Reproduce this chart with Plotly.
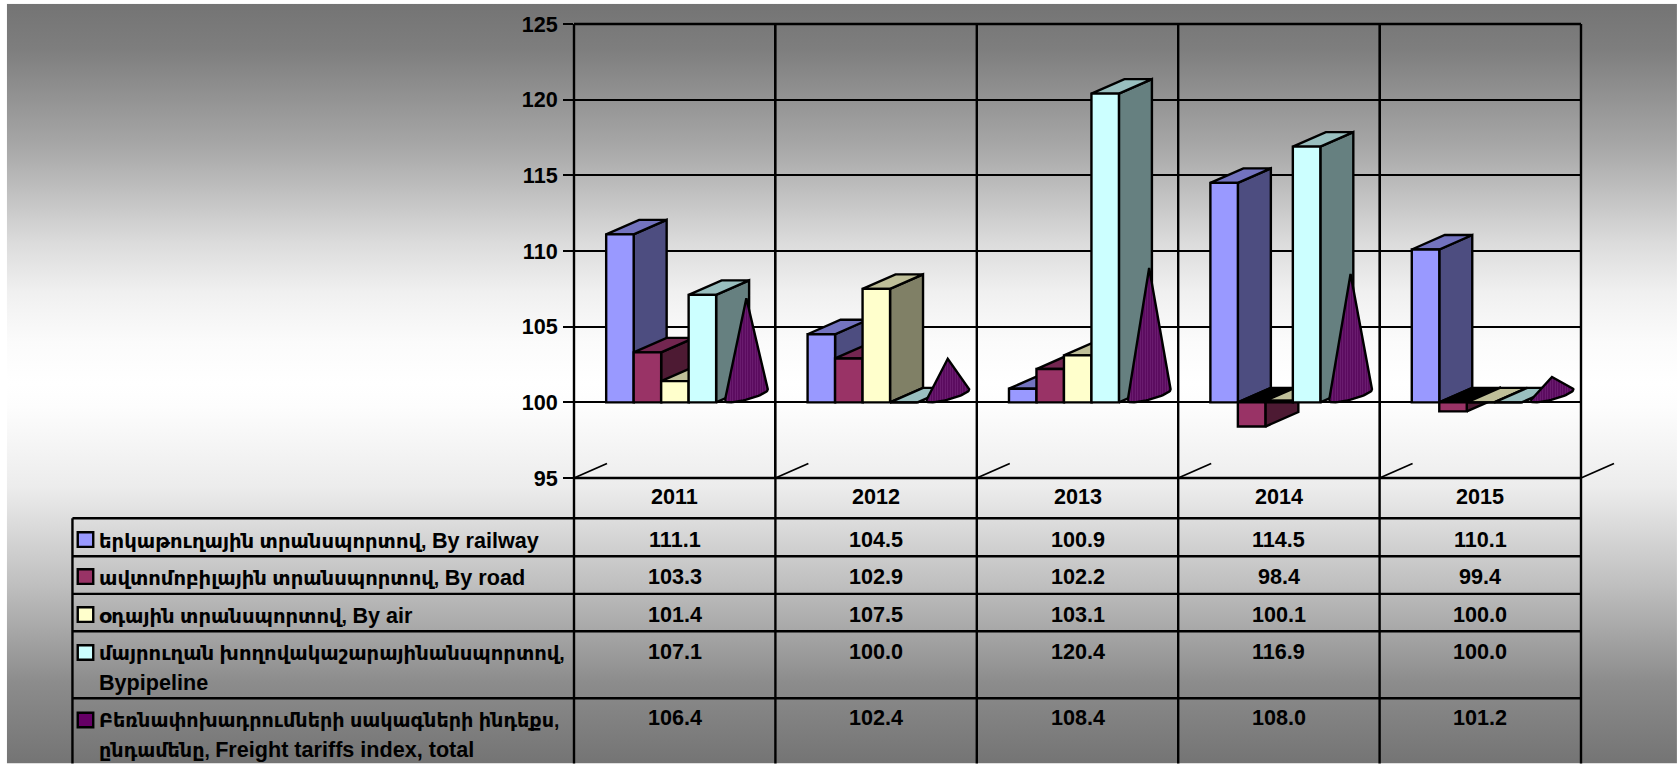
import base64
import math
import re
import plotly.graph_objects as go

# ---- data -------------------------------------------------------------
years = ["2011", "2012", "2013", "2014", "2015"]
railway = [111.1, 104.5, 100.9, 114.5, 110.1]
road = [103.3, 102.9, 102.2, 98.4, 99.4]
air = [101.4, 107.5, 103.1, 100.1, 100.0]
pipeline = [107.1, 100.0, 120.4, 116.9, 100.0]
tariffs = [106.4, 102.4, 108.4, 108.0, 101.2]

label_railway = ["երկաթուղային տրանսպորտով, By railway"]
label_road = ["ավտոմոբիլային տրանսպորտով, By road"]
label_air = ["օդային տրանսպորտով, By air"]
label_pipeline = ["մայրուղան խողովակաշարայինանսպորտով,", "Bypipeline"]
label_tariffs = ["Բեռնափոխադրումների սակագների ինդեքս,", "ընդամենը, Freight tariffs index, total"]

y_ticks = [95, 100, 105, 110, 115, 120, 125]

# ---- styling ----------------------------------------------------------
W, H = 1677, 764
L, R, T, B = 573.5, 1581.0, 24.2, 478.4
FONT = "Liberation Sans, DejaVu Sans, Arial, sans-serif"
FS = 21.6
FS_ARM = 19.6
LW = 2.4
BLACK = "#000000"


def xp(px):
    return (px - L) / (R - L)


def yp(py):
    return (B - py) / (B - T)


BASE = 100.0
X_UNIT = (R - L) / 5
Y_UNIT = (B - T) / 30
DX = 33 / X_UNIT     # depth offset along x (category units)
DY = 14.5 / Y_UNIT   # depth offset along y (value units)
BW = 27.5 / X_UNIT   # bar width
START = 32.2 / X_UNIT

box_series = [
    (railway, "#9999FF", "#4D4D80", "#7373BF"),
    (road, "#993366", "#4D1A33", "#732650"),
    (air, "#FFFFCC", "#808066", "#BFBF99"),
    (pipeline, "#CCFFFF", "#668080", "#99BFBF"),
]
CONE = "#660066"

fig = go.Figure()


def add_poly(xs, ys, fill, z, name):
    fig.add_trace(go.Scatter(
        x=xs, y=ys, mode="lines", fill="toself", fillcolor=fill,
        line=dict(color=BLACK, width=LW, simplify=False), hoverinfo="skip",
        showlegend=False, zorder=z, name=name, cliponaxis=False))


for s, (vals, front, side, top) in enumerate(box_series):
    lefts = [i + START + s * BW for i in range(len(vals))]
    sx, sy, tx, ty, nx, ny = [], [], [], [], [], []
    for x0, v in zip(lefts, vals):
        x1 = x0 + BW
        sx += [x1, x1, x1 + DX, x1 + DX, x1, None]
        if v >= BASE:
            sy += [BASE, v, v + DY, BASE + DY, BASE, None]
            tx += [x0, x1, x1 + DX, x0 + DX, x0, None]
            ty += [v, v, v + DY, v + DY, v, None]
        else:
            sy += [v, BASE, BASE + DY, v + DY, v, None]
            nx += [x0, x1, x1 + DX, x0 + DX, x0, None]
            ny += [BASE, BASE, BASE + DY, BASE + DY, BASE, None]
    z = 2 * s + 1
    add_poly(sx, sy, side, z, "side")
    if nx:
        add_poly(nx, ny, BLACK, z, "underside")
    add_poly(tx, ty, top, z, "top")
    fig.add_trace(go.Bar(
        x=lefts, y=[v - BASE for v in vals], base=BASE, width=BW, offset=0,
        marker=dict(color=front, line=dict(color=BLACK, width=LW)),
        hoverinfo="skip", showlegend=False, zorder=z + 1, cliponaxis=False))

# cones: base ellipse in the same oblique projection, apex at the value
for i, v in enumerate(tariffs):
    x0 = i + START + 4 * BW
    cx, cy = x0 + BW / 2 + DX / 2, BASE + DY / 2
    apex = (cx, v + DY / 2)
    a_x, b_x, b_y = BW / 2, DX / 2, DY / 2
    ell = []
    for k in range(0, 360, 6):
        t = math.radians(k)
        ell.append((cx + a_x * math.cos(t) + b_x * math.sin(t), cy + b_y * math.sin(t)))

    def to_px(p):
        return (p[0] * X_UNIT, p[1] * Y_UNIT)

    pts = sorted(set(ell + [apex]))

    def cross(o, a, b):
        oa, aa, ba = to_px(o), to_px(a), to_px(b)
        return (aa[0] - oa[0]) * (ba[1] - oa[1]) - (aa[1] - oa[1]) * (ba[0] - oa[0])

    lower, upper = [], []
    for p in pts:
        while len(lower) >= 2 and cross(lower[-2], lower[-1], p) <= 0:
            lower.pop()
        lower.append(p)
    for p in reversed(pts):
        while len(upper) >= 2 and cross(upper[-2], upper[-1], p) <= 0:
            upper.pop()
        upper.append(p)
    hull = lower[:-1] + upper
    fig.add_trace(go.Scatter(
        x=[p[0] for p in hull], y=[p[1] for p in hull], mode="lines", fill="toself",
        fillcolor=CONE,
        fillpattern=dict(shape="|", size=2.5, solidity=0.3, fgcolor="#742678", bgcolor="#5A0A5E", fillmode="replace"),
        line=dict(color=BLACK, width=LW), hoverinfo="skip", showlegend=False,
        zorder=20, cliponaxis=False))

# ---- data table below the axis ---------------------------------------
table_rows = [
    (railway, label_railway, "#9999FF", 540, 540, FS_ARM),
    (road, label_road, "#993366", 577, 577, FS_ARM),
    (air, label_air, "#FFFFCC", 615, 615, FS_ARM),
    (pipeline, label_pipeline, "#CCFFFF", 652, 653, FS_ARM),
    (tariffs, label_tariffs, CONE, 718, 720.5, 19.2),
]
line_gap = [0, 29]
annotations, shapes = [], []


def text(px, py, s, anchor="center"):
    annotations.append(dict(
        x=xp(px), y=yp(py), xref="paper", yref="paper", text=s, showarrow=False,
        xanchor=anchor, yanchor="middle", align="left",
        font=dict(family=FONT, size=FS, color="#000000"), borderpad=0))


def styled(label, size):
    """Armenian glyphs come from a wider fallback face, so they run a little smaller."""
    parts = re.split(r"([\u0530-\u058F][\u0530-\u058F ,]*)", label)
    out = ""
    for part in parts:
        if part and "\u0530" <= part[0] <= "\u058F":
            out += "<span style='font-size:%spx'>%s</span>" % (size, part)
        else:
            out += part
    return "<b>%s</b>" % out


def hline(py, x_from, x_to=R):
    shapes.append(dict(type="line", xref="paper", yref="paper", x0=xp(x_from), x1=xp(x_to),
                       y0=yp(py), y1=yp(py), line=dict(color=BLACK, width=LW)))


def vline(px, y_from, y_to=H):
    shapes.append(dict(type="line", xref="paper", yref="paper", x0=xp(px), x1=xp(px),
                       y0=yp(y_from), y1=yp(y_to), line=dict(color=BLACK, width=LW)))


col_x = [L + X_UNIT * (i + 0.5) for i in range(5)]
for cx, yr in zip(col_x, years):
    text(cx, 497, "<b>%s</b>" % yr)

for vals, labels, col, val_y, text_y, arm_size in table_rows:
    for cx, v in zip(col_x, vals):
        text(cx, val_y, "<b>%.1f</b>" % v)
    for k, lab in enumerate(labels):
        text(96.8, text_y + 0.5 + line_gap[k], styled(lab, arm_size), anchor="left")
    shapes.append(dict(type="rect", xref="paper", yref="paper",
                       x0=xp(77), x1=xp(92.5), y0=yp(text_y + 7.3), y1=yp(text_y - 7.3),
                       fillcolor=col, line=dict(color=BLACK, width=LW)))

for py in [518.7, 556.7, 594.3, 631.7, 698.7]:
    hline(py, 71.7)
hline(T, L)
hline(B, L)
for i in range(6):
    vline(L + X_UNIT * i, T)
vline(71.7, 518.7)

# floor stubs along the depth direction
for i in range(len(years) + 1):
    px = L + X_UNIT * i
    shapes.append(dict(type="line", xref="paper", yref="paper", x0=xp(px), x1=xp(px + 33),
                       y0=yp(B), y1=yp(B - 14.5), line=dict(color=BLACK, width=1.8)))

# ---- page gradient ----------------------------------------------------
stops = [(0, "#747474"), (0.06, "#7E7E7E"), (0.19, "#A8A8A8"), (0.316, "#DCDCDC"),
         (0.38, "#F0F0F0"), (0.445, "#FBFBFB"), (0.5, "#FFFFFF"), (0.53, "#FDFDFD"),
         (0.637, "#ECECEC"), (0.765, "#BFBFBF"), (0.893, "#8C8C8C"), (1, "#747474")]
svg = (
    '<svg xmlns="http://www.w3.org/2000/svg" width="100" height="760" preserveAspectRatio="none">'
    '<defs><linearGradient id="g" x1="0" y1="0" x2="0" y2="1">'
    + "".join('<stop offset="%s" stop-color="%s"/>' % s for s in stops) +
    '</linearGradient></defs><rect width="100" height="760" fill="url(#g)"/></svg>'
)
src = "data:image/svg+xml;base64," + base64.b64encode(svg.encode()).decode()

fig.update_layout(
    width=W, height=H,
    margin=dict(l=L, r=W - R, t=T, b=H - B, pad=0),
    paper_bgcolor="#FFFFFF", plot_bgcolor="rgba(0,0,0,0)",
    showlegend=False, barmode="overlay",
    images=[dict(source=src, xref="paper", yref="paper", x=xp(6), y=yp(4),
                 sizex=(W - 6) / (R - L), sizey=(H - 4) / (B - T),
                 sizing="stretch", xanchor="left", yanchor="top", layer="below")],
    annotations=annotations, shapes=shapes,
    xaxis=dict(range=[0, 5], tick0=0, dtick=1, showticklabels=False, ticks="",
               showgrid=True, gridcolor=BLACK, gridwidth=LW, zeroline=False, showline=False),
    yaxis=dict(range=[95, 125], tickvals=y_ticks, ticks="outside", ticklen=10, tickwidth=LW,
               tickcolor=BLACK, showgrid=True, gridcolor=BLACK, gridwidth=LW, zeroline=False,
               showline=False, ticklabelstandoff=1,
               tickfont=dict(family=FONT, size=FS, color="#000000", weight="bold")),
)

fig.write_html("out.html", config={"displayModeBar": False},
               post_script="document.body.style.margin='0';document.body.style.overflow='hidden';")
